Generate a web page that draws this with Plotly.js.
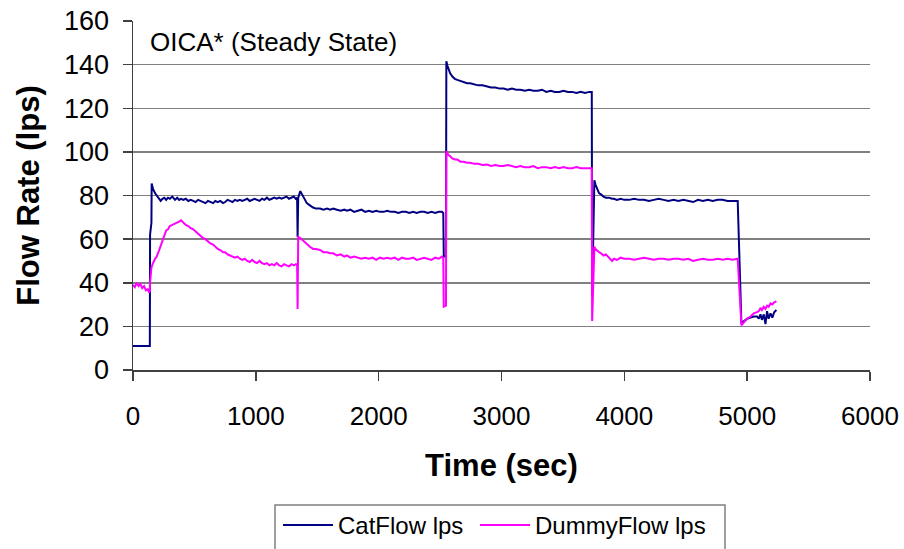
<!DOCTYPE html>
<html><head><meta charset="utf-8">
<script src="https://cdn.plot.ly/plotly-3.0.1.min.js"></script>
<style>html,body{margin:0;padding:0;background:#fff;}#chart{width:904px;height:549px;}</style>
</head><body><div id="chart"></div>
<script>
const timeSec = [0,15,30,45,60,75,90,105,120,132,137,139,150,152,163,180,193,210,225,240,255,270,285,300,320,342,360,375,391,410,430,450,470,490,510,530,550,570,590,610,630,652,670,690,710,733,750,770,790,810,830,850,870,890,910,930,950,970,990,1010,1030,1050,1070,1090,1110,1130,1150,1170,1190,1210,1230,1250,1270,1290,1310,1325,1336,1340,1345,1362,1380,1400,1415,1440,1466,1490,1523,1550,1580,1605,1630,1660,1690,1720,1741,1770,1800,1830,1860,1890,1920,1950,1980,2010,2040,2070,2100,2130,2160,2190,2220,2250,2280,2310,2340,2370,2400,2430,2460,2490,2515,2526,2530,2548,2551,2560,2569,2582,2600,2620,2640,2665,2691,2720,2745,2780,2810,2845,2881,2915,2950,2985,3017,3050,3085,3120,3153,3190,3225,3260,3295,3330,3365,3400,3435,3470,3505,3540,3575,3610,3645,3680,3715,3735,3738,3756,3765,3780,3795,3810,3830,3850,3875,3900,3915,3940,3970,4000,4040,4080,4120,4160,4200,4240,4280,4320,4360,4400,4440,4480,4520,4560,4600,4640,4680,4720,4760,4800,4840,4880,4923,4953,4975,5000,5027,5054,5081,5095,5108,5120,5135,5149,5162,5175,5190,5205,5220,5238];
const catFlow = [11,11,11,11,11,11,11,11,11,11,11,62,67.5,85.5,83,81,80,79,77.5,78.5,79,78,79,78.5,79.5,78,79,78,78.5,78,78.5,77.5,78,77.5,77,78,77.5,77,76.5,77.5,77,76.5,77.5,77,77.5,76.5,77,78,77.5,77,78,77.5,78,77.5,78,78.5,77.5,78,78.5,78,77.5,78.5,78,79,78,78.5,79,78.5,79,78.5,79,79.5,78.5,79,79.5,78.5,79,61,79,82,80,78,76.5,75.5,74.5,74,74,73.5,74,73.5,74,73.5,73,73.5,73,73.5,72.5,73,73.5,72.5,73,72.5,73,72.5,72.5,73,72.5,72.5,72,72.5,72.5,72,72.5,72,72.5,72.5,72,72.5,72,72.5,72.5,72,52,52,141.5,139.5,137.6,136,134.5,133.5,133,132.5,132,131.5,131.5,131,130.5,130.5,130,129.5,129.5,129,129,128.5,129,128.5,128.5,128,128.5,128,128,128.5,127.5,128,127.5,127.5,128,127.5,127.5,127,127.5,127,127.5,127.5,34,87,85,82.5,81,80.5,79.5,79,79,78.5,78.5,78,78.5,78,78,78.5,78,78,77.5,78,78.5,78,77.5,78,77.5,78,77.5,77,78,77.5,78,77.5,78,78,77.5,77.5,77.5,21.5,22.5,23.5,24,24.5,24.5,23.5,25.5,23,25.5,21,27,23.5,26,24,26.5,27.5];
const dummyFlow = [39,38,40,38.5,39.5,37.5,38.5,36.5,37,35.5,36,40,47,47.5,49,51,52,54.5,57,60,61.5,64,64.5,66,66.5,67,67.5,68,68.6,67.5,66.5,66,65,64.5,63.5,62.5,61.5,60.5,60,59,58,57.5,56.5,55.5,55,54,54,53,52.5,52,51.5,52,51,50.5,51,50,49.5,50.5,49.5,49,50,49,48.5,49,48,48.5,48,49,48,47.5,48.5,48,47.5,48.5,48,48.5,48.5,28,61,60.5,59.5,58.5,57.5,56.5,55.5,55.5,55,54,54,53.5,53.5,52.5,53,52,52.5,51.5,52,51.5,51,51.5,51,51.5,50.5,51.5,51,51.5,51,51.5,50.5,51.5,51,51,51.5,50.5,51,51.5,51,50.5,51.5,51,52,51.5,29,29.5,100.3,99,98.5,98,97,96.5,96.5,95.5,95.5,95,95,94.5,94.5,94,94.2,93.5,94,93.5,93.5,94,93.5,93,93.5,93,93,93.5,92.5,93,93,92.5,93,92.5,93,92.5,92.5,93,92.5,92.5,92.5,92.5,22.5,56.5,55.5,54.5,54,53.5,52.5,53,51.5,50,51,50.5,51.5,51,51,50.5,51,51.5,51,50.5,51,51,50.5,51,51,50.5,51,50,50.5,51,50.5,50.5,51,50.5,51,50.5,51,20.5,22,23.5,24.5,26,26.5,27,28.5,27.5,29,28,29.5,29,30.5,30,31,31.5];
const seriesNames = ["CatFlow lps", "DummyFlow lps"];
const xTickVals = [0, 1000, 2000, 3000, 4000, 5000, 6000];
const yTickVals = [0, 20, 40, 60, 80, 100, 120, 140, 160];
const xTitle = "Time (sec)";
const yTitle = "Flow Rate (lps)";
const noteText = "OICA* (Steady State)";

const FONT = "'Liberation Sans', Arial, sans-serif";
const W = 904, H = 549, ML = 133, MR = 34, MT = 21, MB = 179;
const PW = W - ML - MR, PH = H - MT - MB;
const px2paperX = p => (p - ML) / PW;
const py2paperY = p => 1 - (p - MT) / PH;

const traces = [
  {x: timeSec, y: catFlow, name: seriesNames[0], type: "scatter", mode: "lines",
   line: {color: "#000080", width: 2}, legend: "legend"},
  {x: timeSec, y: dummyFlow, name: seriesNames[1], type: "scatter", mode: "lines",
   line: {color: "#ff00ff", width: 2}, legend: "legend2"}
];
const legendBase = {
  orientation: "h", xanchor: "left", yanchor: "top",
  xref: "container", yref: "container",
  itemwidth: 50, borderwidth: 0, bgcolor: "rgba(0,0,0,0)",
  font: {family: FONT, size: 24, color: "#000"}
};
const layout = {
  width: W, height: H,
  margin: {l: ML, r: MR, t: MT, b: MB, pad: 0, autoexpand: false},
  paper_bgcolor: "#ffffff", plot_bgcolor: "#ffffff",
  font: {family: FONT, color: "#000000", size: 26},
  showlegend: true,
  xaxis: {
    range: [0, 6000], tickvals: xTickVals, ticktext: xTickVals.map(String),
    showgrid: false, zeroline: false, showline: true, linecolor: "#404040", linewidth: 1.5,
    ticks: "outside", ticklen: 9, tickcolor: "#404040", tickwidth: 1.5,
    ticklabelstandoff: 13,
    tickfont: {family: FONT, size: 26, color: "#000"},
    title: {text: xTitle, font: {family: FONT, size: 31, color: "#000", weight: "bold"}, standoff: 24}
  },
  yaxis: {
    range: [0, 160], tickvals: yTickVals, ticktext: yTickVals.map(String),
    showgrid: true, gridcolor: "#808080", gridwidth: 1.5,
    zeroline: false, showline: true, linecolor: "#404040", linewidth: 1.5,
    ticks: "outside", ticklen: 9, tickcolor: "#404040", tickwidth: 1.5,
    ticklabelstandoff: 8,
    tickfont: {family: FONT, size: 27, color: "#000"},
    title: {text: yTitle, font: {family: FONT, size: 31, color: "#000", weight: "bold"}, standoff: 15}
  },
  legend: Object.assign({}, legendBase, {x: 278 / W, y: (H - 503) / H}),
  legend2: Object.assign({}, legendBase, {x: 475 / W, y: (H - 503) / H}),
  shapes: [{
    type: "rect", xref: "paper", yref: "paper", layer: "below",
    x0: px2paperX(275), x1: px2paperX(725), y0: py2paperY(505), y1: py2paperY(556),
    line: {color: "#7f7f7f", width: 1.5}, fillcolor: "rgba(0,0,0,0)"
  }],
  annotations: [{
    text: noteText, xref: "paper", yref: "paper", x: 0.021, y: 0.94,
    xanchor: "left", yanchor: "middle", showarrow: false,
    font: {family: FONT, size: 26, color: "#000"}
  }]
};
Plotly.newPlot("chart", traces, layout, {displayModeBar: false, staticPlot: true});
</script>
</body></html>
